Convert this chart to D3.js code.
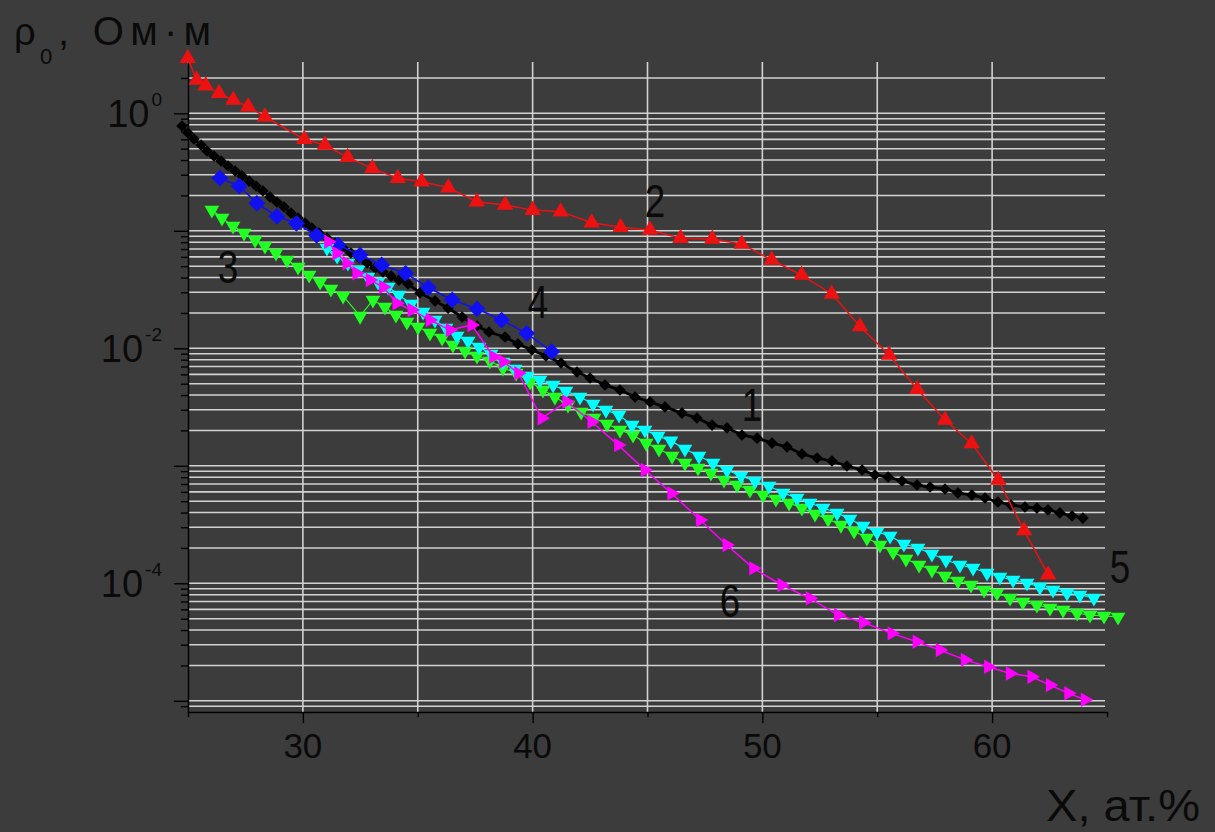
<!DOCTYPE html>
<html><head><meta charset="utf-8">
<script src="https://cdn.jsdelivr.net/npm/d3@7"></script>
<style>html,body{margin:0;padding:0;background:#3c3c3c;} svg{display:block;}</style>
</head><body><svg id="c" width="1215" height="832"></svg>
<script>
// ---------- data (X in at.%, rho0 in Ohm*m) ----------
const curve1 = [[24.74,0.780],[25.00,0.680],[25.26,0.604],[25.57,0.537],[25.83,0.478],[26.13,0.433],[26.44,0.393],[26.74,0.356],[27.05,0.323],[27.35,0.293],[27.66,0.265],[27.96,0.2405],[28.26,0.218],[28.57,0.194],[28.87,0.176],[29.18,0.1594],[29.48,0.1417],[29.79,0.1285],[30.09,0.1165],[30.39,0.1056],[30.70,0.0958],[31.05,0.0868],[31.40,0.0787],[31.75,0.0714],[32.09,0.0647],[32.44,0.0587],[32.79,0.0532],[33.14,0.0482],[33.49,0.0446],[33.84,0.0412],[34.18,0.0381],[34.58,0.0353],[35.10,0.0296],[35.75,0.0253],[36.32,0.0220],[36.93,0.01847],[37.58,0.01548],[38.10,0.01376],[38.80,0.01248],[39.36,0.01088],[39.97,0.00967],[40.58,0.00860],[41.24,0.00750],[41.93,0.00629],[42.50,0.00559],[43.15,0.00487],[43.80,0.00442],[44.46,0.00385],[45.11,0.00349],[45.76,0.00317],[46.50,0.00281],[47.15,0.00255],[47.81,0.00222],[48.46,0.00210],[49.11,0.00183],[49.77,0.00172],[50.42,0.00156],[51.07,0.00145],[51.72,0.00126],[52.38,0.001165],[53.03,0.001099],[53.68,0.000996],[54.34,0.000921],[54.90,0.000835],[55.47,0.000803],[56.08,0.000743],[56.73,0.000686],[57.30,0.000660],[57.95,0.000635],[58.51,0.000587],[59.12,0.000564],[59.69,0.000532],[60.25,0.000492],[60.82,0.000464],[61.43,0.000446],[61.95,0.000437],[62.43,0.000421],[62.95,0.000397],[63.48,0.000374],[63.95,0.000359]];

const curve2 = [[24.99,2.94],[25.38,1.92],[25.77,1.72],[26.35,1.48],[26.97,1.30],[27.62,1.14],[28.35,0.935],[30.06,0.601],[30.96,0.537],[31.95,0.422],[33.02,0.340],[34.13,0.280],[35.17,0.262],[36.33,0.233],[37.57,0.177],[38.80,0.166],[40.00,0.150],[41.22,0.1455],[42.57,0.117],[43.83,0.107],[45.11,0.1016],[46.44,0.0863],[47.82,0.0851],[49.10,0.0773],[50.41,0.0564],[51.71,0.0420],[53.02,0.0290],[54.25,0.0153],[55.52,0.00877],[56.74,0.00448],[57.95,0.00245],[59.11,0.00155],[60.27,0.000757],[61.39,0.000281],[62.44,0.000118]];

const curve3 = [[26.04,0.1503],[26.48,0.1285],[26.96,0.1099],[27.44,0.0958],[27.92,0.0835],[28.35,0.0742],[28.83,0.0647],[29.31,0.0564],[29.79,0.0492],[30.27,0.0420],[30.75,0.0367],[31.22,0.0320],[31.75,0.0279],[32.49,0.0188],[33.05,0.0258],[33.57,0.0225],[34.05,0.0192],[34.53,0.01674],[35.01,0.01518],[35.53,0.01350],[36.06,0.01224],[36.53,0.01067],[37.06,0.00948],[37.58,0.00860],[38.14,0.00780],[38.71,0.00680],[39.28,0.00616],[39.89,0.00517],[40.45,0.00442],[40.97,0.00385],[41.54,0.00329],[42.11,0.00287],[42.67,0.00255],[43.24,0.00227],[43.80,0.00202],[44.37,0.00183],[44.94,0.00156],[45.50,0.00139],[46.07,0.00121],[46.63,0.001056],[47.20,0.000958],[47.76,0.000868],[48.33,0.000757],[48.90,0.000686],[49.46,0.000622],[50.03,0.000564],[50.59,0.000522],[51.16,0.000483],[51.72,0.000437],[52.29,0.000389],[52.86,0.000352],[53.42,0.000313],[53.99,0.000279],[54.55,0.000243],[55.12,0.000212],[55.69,0.0001847],[56.25,0.0001610],[56.82,0.0001431],[57.38,0.0001297],[57.95,0.0001154],[58.51,0.0001046],[59.08,0.0000967],[59.65,0.0000877],[60.21,0.0000827],[60.78,0.0000750],[61.34,0.0000693],[61.95,0.0000654],[62.52,0.0000616],[63.09,0.0000593],[63.70,0.0000559],[64.26,0.0000537],[64.87,0.0000527],[65.48,0.0000517]];

const curve4 = [[26.39,0.2813],[27.23,0.2405],[28.00,0.1714],[28.87,0.1328],[29.72,0.1159],[30.60,0.0912],[31.53,0.0757],[32.49,0.0622],[33.43,0.0512],[34.47,0.0435],[35.46,0.0329],[36.50,0.0258],[37.58,0.0217],[38.65,0.0174],[39.74,0.0134],[40.83,0.00936]];

const curve5 = [[31.05,0.0714],[31.49,0.0610],[31.96,0.0532],[32.40,0.0464],[32.83,0.0404],[33.27,0.0367],[33.71,0.0332],[34.18,0.0284],[34.71,0.0238],[35.23,0.0204],[35.75,0.0174],[36.23,0.01489],[36.71,0.01273],[37.19,0.01154],[37.67,0.01026],[38.19,0.00894],[38.71,0.00764],[39.23,0.00666],[39.76,0.00581],[40.32,0.00537],[40.89,0.00487],[41.45,0.00433],[42.06,0.00385],[42.63,0.00336],[43.19,0.00298],[43.76,0.00271],[44.33,0.00222],[44.89,0.00202],[45.46,0.00179],[46.02,0.00163],[46.63,0.00139],[47.24,0.00121],[47.85,0.001056],[48.46,0.000921],[49.07,0.000819],[49.68,0.000743],[50.29,0.000673],[50.90,0.000587],[51.51,0.000532],[52.07,0.000483],[52.64,0.000437],[53.25,0.000397],[53.81,0.000352],[54.38,0.000307],[54.99,0.000273],[55.56,0.000253],[56.16,0.000216],[56.77,0.000200],[57.38,0.0001776],[57.99,0.0001578],[58.60,0.0001431],[59.17,0.0001350],[59.78,0.0001224],[60.34,0.0001131],[60.91,0.0001067],[61.52,0.0001006],[62.08,0.0000930],[62.65,0.0000877],[63.26,0.0000827],[63.82,0.0000795],[64.43,0.0000750]];

const curve6 = [[31.11,0.0808],[31.47,0.0644],[31.91,0.0529],[32.34,0.0435],[32.92,0.0381],[33.50,0.0332],[34.08,0.0242],[34.74,0.0212],[35.53,0.0174],[36.40,0.0143],[37.35,0.0158],[38.29,0.00848],[38.72,0.00769],[39.38,0.00613],[40.40,0.00254],[41.48,0.00351],[42.57,0.00237],[43.73,0.00150],[44.89,0.000921],[46.05,0.000583],[47.29,0.000346],[48.45,0.000212],[49.61,0.000134],[50.84,0.0000967],[52.07,0.0000745],[53.30,0.0000537],[54.39,0.0000464],[55.63,0.0000375],[56.72,0.0000318],[57.73,0.0000271],[58.82,0.0000223],[59.83,0.0000195],[60.78,0.0000171],[61.72,0.0000160],[62.52,0.0000136],[63.32,0.0000116],[64.04,0.0000102]];

const xMajorTicks = [30, 40, 50, 60];
const xMinorTicks = [25, 35, 45, 55, 65];
const xGridValues = [30, 35, 40, 45, 50, 55, 60];
const yLabelExponents = [0, -2, -4];
const yDecadeExponents = [0, -1, -2, -3, -4, -5];
const curveLabelText = ["1", "2", "3", "4", "5", "6"];
const curveLabelX = [49.55, 45.33, 26.74, 40.23, 65.57, 48.59];
const curveLabelY = [0.002406, 0.1318, 0.03594, 0.01811, 0.0001006, 0.0000517];
const yTitle = ["ρ", "0", ", Ом·м"];
const xTitle = "X, ат.%";

// ---------- drawing ----------
const W = 1215, H = 832;
const svg = d3.select("#c");
svg.append("rect").attr("width", W).attr("height", H).attr("fill", "#3c3c3c");

const x = d3.scaleLinear().domain([25, 65]).range([188, 1107]);
const y = d3.scaleLog().domain([8.03e-6, 2.733]).range([712, 62]);
const FONT = "'Liberation Sans', Arial, sans-serif";
const TXT = "#0a0a0a";

const logVals = [];
for (let d = -6; d <= 1; d++) for (let m = 1; m <= 9; m++) {
  const v = m * Math.pow(10, d);
  if (v >= y.domain()[0] && v <= y.domain()[1]) logVals.push(v);
}
const decadeVals = yDecadeExponents.map(e => Math.pow(10, e));
const minorVals = logVals.filter(v => !decadeVals.some(d => Math.abs(d - v) / d < 1e-9));

// grid
const grid = svg.append("g").attr("stroke", "#d2d2d2").attr("stroke-width", 1.6);
grid.selectAll("line.h").data(logVals).join("line")
  .attr("x1", x(25)).attr("x2", x(65) - 2)
  .attr("y1", d => y(d)).attr("y2", d => y(d));
grid.selectAll("line.v").data(xGridValues).join("line")
  .attr("x1", d => x(d)).attr("x2", d => x(d))
  .attr("y1", y.range()[1]).attr("y2", y.range()[0]);

// axes
function styleAxis(g) {
  g.selectAll("path,line").attr("stroke", "#000").attr("stroke-width", 1.4);
  g.selectAll("text").remove();
}
svg.append("g").attr("transform", `translate(${x(25)},0)`)
  .call(d3.axisLeft(y).tickValues(decadeVals.filter(v => v >= y.domain()[0])).tickSize(14).tickSizeOuter(0))
  .call(styleAxis);
svg.append("g").attr("transform", `translate(${x(25)},0)`)
  .call(d3.axisLeft(y).tickValues(minorVals).tickSize(7).tickSizeOuter(0))
  .call(styleAxis).select(".domain").remove();
svg.append("g").attr("transform", `translate(0,${y.range()[0]})`)
  .call(d3.axisBottom(x).tickValues(xMajorTicks).tickSize(11).tickSizeOuter(0))
  .call(styleAxis);
svg.append("g").attr("transform", `translate(0,${y.range()[0]})`)
  .call(d3.axisBottom(x).tickValues(xMinorTicks).tickSize(5).tickSizeOuter(0))
  .call(styleAxis).select(".domain").remove();

// x tick labels
svg.append("g").selectAll("text").data(xMajorTicks).join("text")
  .attr("x", d => x(d)).attr("y", 758)
  .attr("text-anchor", "middle").attr("font-family", FONT).attr("font-size", 35)
  .attr("fill", TXT).text(d => d);

// y tick labels: 10^e
const yl = svg.append("g").selectAll("text").data(yLabelExponents).join("text")
  .attr("x", x(25) - 26).attr("y", d => y(Math.pow(10, d)) + 14)
  .attr("text-anchor", "end").attr("font-family", FONT).attr("fill", TXT);
yl.append("tspan").attr("font-size", 38).text("10");
yl.append("tspan").attr("font-size", 19).attr("dy", -21).attr("dx", 2).text(d => d === 0 ? "0" : "-" + Math.abs(d));

// series
function drawSeries(data, color, lineW, symType, symSize, rot) {
  const g = svg.append("g");
  g.append("path").datum(data)
    .attr("d", d3.line().x(d => x(d[0])).y(d => y(d[1])))
    .attr("fill", "none").attr("stroke", color).attr("stroke-width", lineW);
  const sym = d3.symbol().type(symType).size(symSize);
  g.selectAll("path.m").data(data).join("path")
    .attr("class", "m").attr("d", sym)
    .attr("transform", d => `translate(${x(d[0])},${y(d[1])}) rotate(${rot})`)
    .attr("fill", color);
}
drawSeries(curve1, "#000000", 2.8, d3.symbolSquare, 68, 45);
drawSeries(curve4, "#1010f0", 1.5, d3.symbolSquare, 140, 45);
drawSeries(curve3, "#22ff22", 1.2, d3.symbolTriangle, 95, 180);
drawSeries(curve5, "#00ffff", 1.2, d3.symbolTriangle, 95, 180);
drawSeries(curve6, "#ff00ff", 1.5, d3.symbolTriangle, 90, 90);
drawSeries(curve2, "#ee1111", 1.5, d3.symbolTriangle, 118, 0);

// curve number labels
svg.append("g").selectAll("text").data(curveLabelText).join("text")
  .attr("transform", (d, i) => `translate(${x(curveLabelX[i])},${y(curveLabelY[i])}) scale(0.8,1)`)
  .attr("text-anchor", "middle").attr("font-family", FONT).attr("font-size", 46)
  .attr("fill", TXT).text(d => d);

// axis titles
svg.append("text").attr("x", 14).attr("y", 45).attr("font-family", FONT).attr("font-size", 38)
  .attr("fill", TXT).text(yTitle[0]);
svg.append("text").attr("x", 40).attr("y", 64).attr("font-family", FONT).attr("font-size", 22)
  .attr("fill", TXT).text(yTitle[1]);
svg.append("text").attr("x", 58).attr("y", 45).attr("font-family", FONT).attr("font-size", 40)
  .attr("textLength", 153).attr("lengthAdjust", "spacing")
  .attr("fill", TXT).text(yTitle[2]);
svg.append("text").attr("x", 1046).attr("y", 821).attr("font-family", FONT).attr("font-size", 44)
  .attr("textLength", 154).attr("lengthAdjust", "spacingAndGlyphs")
  .attr("fill", TXT).text(xTitle);
</script>
</body></html>
